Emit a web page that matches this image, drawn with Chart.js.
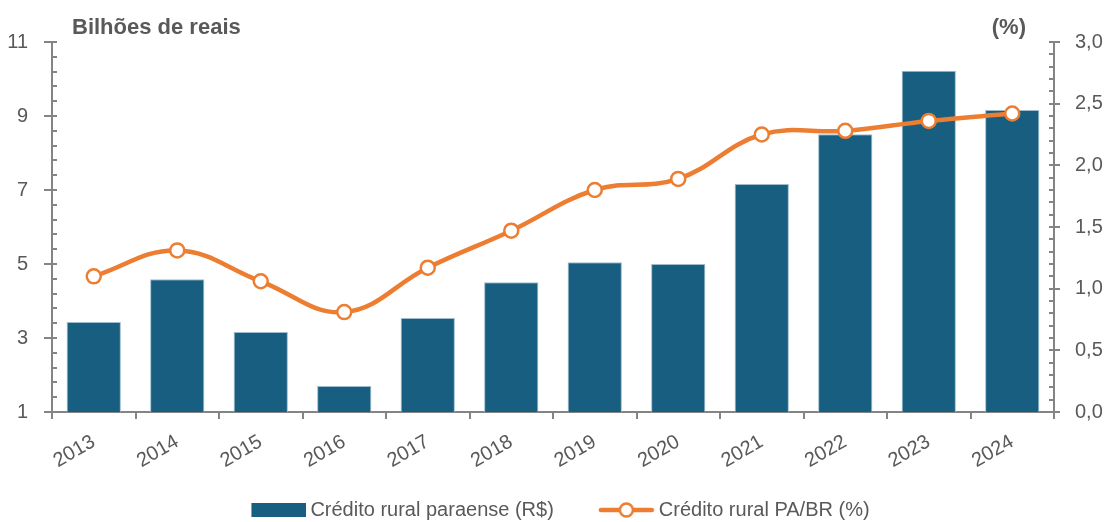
<!DOCTYPE html>
<html>
<head>
<meta charset="utf-8">
<script src="https://cdn.jsdelivr.net/npm/chart.js@4.4.1/dist/chart.umd.min.js"></script>
<style>
  html, body { margin: 0; padding: 0; background: #fff; }
  #wrap { width: 1105px; height: 522px; }
</style>
</head>
<body>
<div id="wrap"><canvas id="myChart"></canvas></div>
<script>
var years = ['2013', '2014', '2015', '2016', '2017', '2018', '2019', '2020', '2021', '2022', '2023', '2024'];
var creditoPara = [3.43, 4.59, 3.16, 1.70, 3.54, 4.51, 5.05, 5.00, 7.16, 8.51, 10.22, 9.16];
var creditoPaBr = [1.10, 1.31, 1.06, 0.81, 1.17, 1.47, 1.80, 1.89, 2.25, 2.28, 2.36, 2.42];
var leftTicks = [1, 3, 5, 7, 9, 11];
var rightTicks = [0, 0.5, 1, 1.5, 2, 2.5, 3];

var blue = '#175e80';
var orange = '#ed7d31';
var axisGray = '#848484';
var textGray = '#595959';
var fontFamily = "'Liberation Sans', Arial, sans-serif";

function isIn(list, v) {
  return list.some(function(t) { return Math.abs(t - v) < 1e-6; });
}

// legend symbols: drawn at the right side of a wider canvas
var symW = 95;
function barSymbol() {
  var c = document.createElement('canvas');
  c.width = symW + 12; c.height = 18;
  var g = c.getContext('2d');
  g.fillStyle = blue;
  g.fillRect(c.width - 55, 2, 55, 14);
  return c;
}
function lineSymbol() {
  var c = document.createElement('canvas');
  c.width = symW + 12; c.height = 18;
  var g = c.getContext('2d');
  var x0 = c.width - 57;
  g.strokeStyle = orange;
  g.lineWidth = 4.5;
  g.lineCap = 'round';
  g.beginPath(); g.moveTo(x0 + 3, 9); g.lineTo(c.width - 3, 9); g.stroke();
  g.beginPath(); g.arc(x0 + 28.5, 9, 6.5, 0, Math.PI * 2);
  g.fillStyle = '#fff'; g.fill();
  g.lineWidth = 2.5; g.stroke();
  return c;
}

var extras = {
  id: 'extras',
  afterLayout: function(chart) {
    // nudge the legend row a bit to the left
    chart.legend.left -= 15;
    chart.legend.right -= 15;
  },
  afterDraw: function(chart) {
    var ctx = chart.ctx;
    var area = chart.chartArea;
    ctx.save();
    // minor ticks pointing into the plot
    ctx.strokeStyle = axisGray;
    ctx.lineWidth = 2;
    chart.scales.y.ticks.forEach(function(t) {
      var py = Math.round(chart.scales.y.getPixelForValue(t.value));
      ctx.beginPath(); ctx.moveTo(area.left, py); ctx.lineTo(area.left + 5, py); ctx.stroke();
    });
    chart.scales.y1.ticks.forEach(function(t) {
      var py = Math.round(chart.scales.y1.getPixelForValue(t.value));
      ctx.beginPath(); ctx.moveTo(area.right, py); ctx.lineTo(area.right - 5, py); ctx.stroke();
    });
    // axis titles
    ctx.fillStyle = textGray;
    ctx.font = 'bold 22px ' + fontFamily;
    ctx.textBaseline = 'alphabetic';
    ctx.textAlign = 'left';
    ctx.fillText('Bilhões de reais', area.left + 20, 34);
    ctx.textAlign = 'right';
    ctx.fillText('(%)', area.right - 28, 34);
    ctx.restore();
  }
};

var data = {
  labels: years,
  datasets: [{
    type: 'bar',
    label: 'Crédito rural paraense (R$)',
    data: creditoPara,
    backgroundColor: blue,
    borderColor: '#9dbccd',
    borderWidth: 1,
    categoryPercentage: 1,
    barPercentage: 0.65,
    yAxisID: 'y',
    order: 2
  }, {
    type: 'line',
    label: 'Crédito rural PA/BR (%)',
    data: creditoPaBr,
    borderColor: orange,
    borderWidth: 4.5,
    tension: 0.4,
    pointRadius: 7,
    pointBorderWidth: 2.5,
    pointBackgroundColor: '#fff',
    pointBorderColor: orange,
    yAxisID: 'y1',
    order: 1
  }]
};

var options = {
  responsive: true,
  maintainAspectRatio: false,
  animation: false,
  layout: { padding: { top: 42, left: 0, right: 0, bottom: -8 } },
  plugins: {
    tooltip: { enabled: false },
    legend: {
      position: 'bottom',
      labels: {
        color: textGray,
        font: { size: 20, family: fontFamily, lineHeight: 1 },
        usePointStyle: true,
        pointStyleWidth: symW,
        padding: 0,
        generateLabels: function(chart) {
          return chart.data.datasets.map(function(ds, i) {
            return {
              text: ds.label,
              datasetIndex: i,
              pointStyle: ds.type === 'bar' ? barSymbol() : lineSymbol(),
              fillStyle: 'transparent',
              strokeStyle: 'transparent',
              lineWidth: 0,
              fontColor: textGray,
              hidden: false
            };
          });
        }
      }
    }
  },
  scales: {
    x: {
      offset: true,
      grid: { drawOnChartArea: false, offset: true, tickLength: 7, color: axisGray, lineWidth: 2 },
      border: { color: axisGray, width: 2 },
      ticks: {
        color: textGray,
        font: { size: 20, family: fontFamily },
        minRotation: 30,
        maxRotation: 30,
        padding: 11
      },
      afterFit: function(scale) { scale.height = 88; }
    },
    y: {
      position: 'left',
      min: 1,
      max: 11,
      grid: {
        drawOnChartArea: false,
        tickLength: 8,
        lineWidth: 2,
        tickColor: function(c) { return isIn(leftTicks, c.tick.value) ? axisGray : 'rgba(0,0,0,0)'; }
      },
      border: { color: axisGray, width: 2 },
      ticks: {
        stepSize: 0.4,
        autoSkip: false,
        color: textGray,
        padding: 16,
        font: { size: 20, family: fontFamily },
        callback: function(v) { return isIn(leftTicks, v) ? String(Math.round(v)) : ''; }
      },
      afterFit: function(scale) { scale.width = 52; }
    },
    y1: {
      position: 'right',
      min: 0,
      max: 3,
      grid: {
        drawOnChartArea: false,
        tickLength: 6,
        lineWidth: 2,
        tickColor: function(c) { return isIn(rightTicks, c.tick.value) ? axisGray : 'rgba(0,0,0,0)'; }
      },
      border: { color: axisGray, width: 2 },
      ticks: {
        stepSize: 0.1,
        autoSkip: false,
        color: textGray,
        padding: 15,
        font: { size: 20, family: fontFamily },
        callback: function(v) { return isIn(rightTicks, v) ? v.toFixed(1).replace('.', ',') : ''; }
      },
      afterFit: function(scale) { scale.width = 51; }
    }
  }
};

var ctx = document.getElementById('myChart').getContext('2d');
var myChart = new Chart(ctx, {
  data: data,
  options: options,
  plugins: [extras]
});
</script>
</body>
</html>
